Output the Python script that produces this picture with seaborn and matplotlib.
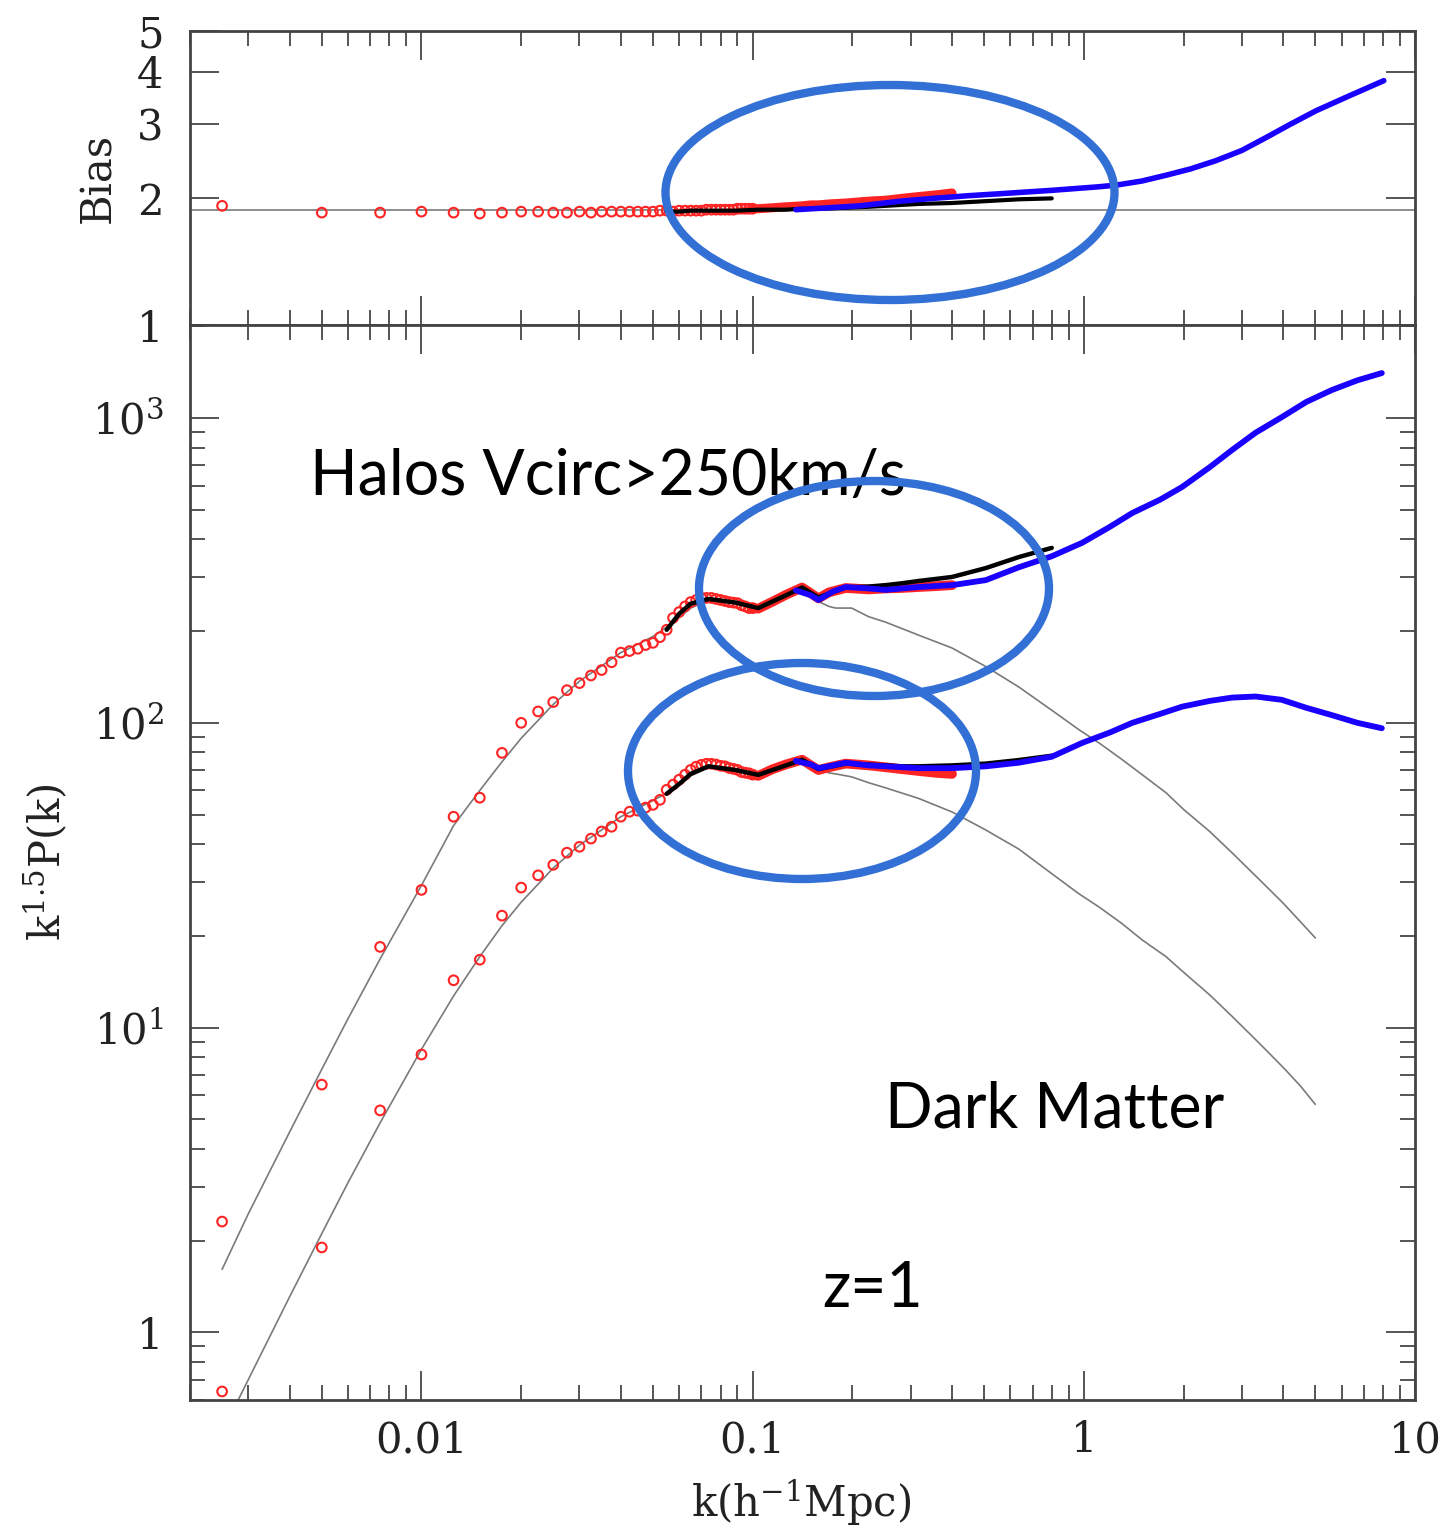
import matplotlib
matplotlib.use("Agg")
import matplotlib.pyplot as plt
import seaborn as sns
from matplotlib.patches import Ellipse
from matplotlib.ticker import FixedLocator, FixedFormatter, NullLocator, NullFormatter, LogLocator

sns.set_theme(style="ticks")
plt.rcParams['font.family'] = ['DejaVu Serif']
plt.rcParams['mathtext.fontset'] = 'dejavuserif'

# ---------------- data ----------------
# sparse red circles (large box), k = 0.0025 ... 0.1
k_red = [0.0025, 0.005, 0.0075, 0.01, 0.0125, 0.015, 0.0175, 0.02, 0.0225, 0.025,
         0.0275, 0.03, 0.0325, 0.035, 0.0375, 0.04, 0.0425, 0.045, 0.0475, 0.05,
         0.0525, 0.055, 0.0575, 0.06, 0.0625, 0.065, 0.0675, 0.07, 0.0725, 0.075,
         0.0775, 0.08, 0.0825, 0.085, 0.0875, 0.09, 0.0925, 0.095, 0.0975, 0.1]
bias_red = [1.92, 1.85, 1.85, 1.86, 1.85, 1.84, 1.85, 1.86, 1.86, 1.85,
            1.85, 1.86, 1.85, 1.86, 1.86, 1.86, 1.86, 1.86, 1.86, 1.86,
            1.87, 1.87, 1.86, 1.87, 1.87, 1.87, 1.87, 1.87, 1.88, 1.88,
            1.88, 1.88, 1.88, 1.88, 1.88, 1.89, 1.89, 1.89, 1.89, 1.89]
halo_red = [2.31, 6.5, 18.4, 28.3, 49.2, 56.8, 79.7, 100, 109, 117,
            128, 135, 143, 149, 158, 170, 172, 175, 180, 183,
            191, 202, 221, 231, 241, 249, 253, 257, 257, 257,
            255, 253, 251, 249, 248, 247, 243, 241, 238, 238]
dm_red = [0.64, 1.9, 5.35, 8.16, 14.3, 16.7, 23.3, 28.8, 31.6, 34.2,
          37.5, 39.2, 41.7, 44.0, 45.6, 49.2, 51.1, 51.5, 52.7, 53.8,
          55.9, 60.3, 62.7, 65.1, 67.6, 70.1, 71.8, 72.8, 73.4, 73.4,
          73.0, 72.3, 72.0, 71.1, 70.6, 70.1, 69.0, 68.6, 68.3, 67.6]

# dense part of the red points (merged into a band)
k_band = [0.1, 0.104, 0.115, 0.126, 0.141, 0.15, 0.158, 0.17, 0.191, 0.224, 0.252, 0.282, 0.317, 0.36, 0.4]
halo_band = [238, 237, 250, 263, 278, 266, 256, 268, 277, 274, 276, 277, 279, 281, 283]
dm_band = [67.6, 67.0, 70.5, 73.0, 75.7, 72.5, 70.0, 71.5, 73.5, 72.5, 71.5, 70.5, 69.5, 68.5, 68.0]
bias_band = [1.89, 1.89, 1.90, 1.91, 1.92, 1.93, 1.93, 1.94, 1.95, 1.97, 1.98, 2.00, 2.02, 2.04, 2.06]

# black points (medium box)
k_blk = [0.055, 0.06, 0.065, 0.0736, 0.0889, 0.104, 0.126, 0.141, 0.158, 0.191,
         0.224, 0.252, 0.282, 0.317, 0.4, 0.506, 0.637, 0.8]
halo_blk = [202, 228, 246, 255, 248, 238, 262, 278, 258, 278, 280, 283, 287, 292, 301, 322, 350, 375]
dm_blk = [58.5, 63, 68, 72, 70, 67.5, 72.5, 75.7, 70.5, 73.5, 73, 72.5, 72, 72, 72.5, 73.5, 75.5, 78]
bias_blk = [1.86, 1.86, 1.87, 1.87, 1.87, 1.88, 1.88, 1.89, 1.89, 1.90,
            1.91, 1.92, 1.93, 1.94, 1.95, 1.97, 1.99, 2.00]

# blue points (small box)
k_blue = [0.135, 0.15, 0.158, 0.175, 0.191, 0.224, 0.252, 0.317, 0.4, 0.506,
          0.637, 0.8, 0.99, 1.2, 1.4, 1.7, 1.98, 2.4, 2.8, 3.3,
          3.96, 4.7, 5.61, 6.7, 7.94]
halo_blue = [272, 262, 253, 270, 279, 276, 273, 279, 283, 294,
             324, 352, 390, 440, 488, 540, 594, 690, 785, 895,
             1007, 1130, 1236, 1330, 1405]
dm_blue = [75, 73, 71, 72.5, 74, 72.5, 72, 71, 71, 72,
           74, 77.4, 86, 93, 100, 107, 113, 118, 121, 122,
           119, 112, 106, 100, 96]
k_blue_b = [0.135, 0.17, 0.21, 0.28, 0.35, 0.45, 0.55, 0.8, 1.1, 1.25,
            1.5, 1.77, 2.1, 2.51, 3.0, 3.55, 4.2, 5.02, 6.3, 8.05]
bias_blue = [1.88, 1.90, 1.92, 1.97, 2.00, 2.03, 2.05, 2.09, 2.13, 2.15,
             2.20, 2.27, 2.35, 2.46, 2.60, 2.79, 3.00, 3.23, 3.50, 3.81]

# linear theory curves
k_lin = [0.0025, 0.003, 0.004, 0.005, 0.006, 0.0075, 0.01, 0.0125, 0.015, 0.0175,
         0.02, 0.025, 0.03, 0.04, 0.05, 0.0585, 0.065, 0.0736, 0.08, 0.0889,
         0.095, 0.104, 0.115, 0.126, 0.135, 0.141, 0.15, 0.158, 0.17, 0.178,
         0.199, 0.224, 0.252, 0.317, 0.4, 0.506, 0.637, 0.8, 0.966, 1.11,
         1.3, 1.5, 1.77, 2.0, 2.4, 2.8, 3.4, 4.0, 4.5, 5.0]
halo_lin = [1.61, 2.45, 4.55, 7.3, 10.7, 16.8, 29.3, 46, 60, 74.5,
            89, 115, 137, 170, 192, 216, 238, 253, 254, 249,
            243, 238, 250, 263, 272, 275, 263, 250, 241, 238,
            238, 223, 214, 194, 176, 153, 131, 110, 95, 86,
            76, 67.6, 59, 52, 44, 37.5, 30.5, 25.6, 22.3, 19.7]
dm_lin = [0.47, 0.70, 1.31, 2.11, 3.10, 4.87, 8.49, 12.7, 17.1, 21.6,
          25.8, 33.4, 39.7, 49.2, 55.6, 61, 67, 71.5, 72, 70.5,
          69, 67.6, 70.5, 73, 75, 75.5, 72.5, 70.5, 68.5, 68,
          66.5, 63.6, 61.2, 56.5, 51, 44.5, 38.5, 32, 27.5, 24.9,
          22.0, 19.4, 17.1, 15.2, 12.8, 10.9, 8.85, 7.4, 6.45, 5.6]
bias_lin = 1.88

RED = '#ff2424'
BLUE = '#1a00ff'
GRAY = '#7a7a7a'
RING = '#3370d6'

W, H = 1449, 1531
fig = plt.figure(figsize=(W / 100, H / 100), dpi=100)
ax_b = fig.add_axes([190 / W, 1 - 325 / H, 1225 / W, 294 / H])
ax_p = fig.add_axes([190 / W, 1 - 1400 / H, 1225 / W, 1075 / H])

for ax in (ax_b, ax_p):
    ax.set_xscale('log')
    ax.set_yscale('log')
    ax.set_xlim(0.002, 10)

# ---- bias panel ----
ax_b.axhline(bias_lin, color=GRAY, lw=1.2, zorder=1)
sns.scatterplot(x=k_red, y=bias_red, ax=ax_b, marker='o', s=48, facecolor='none',
                edgecolor=RED, linewidth=1.5, zorder=3)
sns.lineplot(x=k_band, y=bias_band, ax=ax_b, color=RED, lw=6.5, estimator=None, sort=False, zorder=3)
sns.lineplot(x=k_blk, y=bias_blk, ax=ax_b, color='black', lw=3.0, estimator=None, sort=False, zorder=4)
sns.lineplot(x=k_blue_b, y=bias_blue, ax=ax_b, color=BLUE, lw=4.0, estimator=None, sort=False, zorder=5)
ax_b.set_ylim(1, 5)

# ---- power spectrum panel ----
sns.lineplot(x=k_lin, y=halo_lin, ax=ax_p, color=GRAY, lw=1.2, estimator=None, sort=False, zorder=1)
sns.lineplot(x=k_lin, y=dm_lin, ax=ax_p, color=GRAY, lw=1.2, estimator=None, sort=False, zorder=1)
for vals, band in ((halo_red, halo_band), (dm_red, dm_band)):
    sns.scatterplot(x=k_red, y=vals, ax=ax_p, marker='o', s=48, facecolor='none',
                    edgecolor=RED, linewidth=1.5, zorder=3)
    sns.lineplot(x=k_band, y=band, ax=ax_p, color=RED, lw=7, estimator=None, sort=False, zorder=3)
for vals in (halo_blk, dm_blk):
    sns.lineplot(x=k_blk, y=vals, ax=ax_p, color='black', lw=3.2, estimator=None, sort=False, zorder=4)
for vals in (halo_blue, dm_blue):
    sns.lineplot(x=k_blue, y=vals, ax=ax_p, color=BLUE, lw=4.2, estimator=None, sort=False, zorder=5)
ax_p.set_ylim(0.6, 2020)

# ---- axes styling ----
for ax in (ax_b, ax_p):
    for sp in ax.spines.values():
        sp.set_visible(True)
        sp.set_linewidth(2.0)
        sp.set_color('#444444')
    ax.tick_params(which='both', direction='in', top=True, right=True,
                   color='#555555', width=1.4, labelsize=30, labelcolor='#222222')
    ax.tick_params(which='major', length=21)
    ax.tick_params(which='minor', length=10.5)
    ax.tick_params(axis='y', which='both', pad=19)
    ax.tick_params(axis='x', which='both', pad=14)
    ax.xaxis.set_major_locator(LogLocator(base=10, numticks=10))
    ax.xaxis.set_minor_locator(LogLocator(base=10, subs=range(2, 10), numticks=20))
    ax.grid(False)

ax_b.xaxis.set_major_formatter(NullFormatter())
ax_b.xaxis.set_minor_formatter(NullFormatter())
ax_b.yaxis.set_major_locator(FixedLocator([1, 2, 3, 4, 5]))
ax_b.yaxis.set_major_formatter(FixedFormatter(['1', '2', '3', '4', '5']))
ax_b.yaxis.set_minor_locator(NullLocator())
ax_b.set_ylabel('Bias', fontsize=30, color='#222222')
ax_b.yaxis.set_label_coords(-0.058, 0.5)

ax_p.xaxis.set_major_locator(FixedLocator([0.001, 0.01, 0.1, 1, 10]))
ax_p.xaxis.set_major_formatter(FixedFormatter(['0.001', '0.01', '0.1', '1', '10']))
ax_p.xaxis.set_minor_formatter(NullFormatter())
ax_p.yaxis.set_major_locator(FixedLocator([1, 10, 100, 1000]))
ax_p.yaxis.set_major_formatter(FixedFormatter(['1', r'$\mathregular{10^1}$', r'$\mathregular{10^2}$',
                                               r'$\mathregular{10^3}$']))
ax_p.yaxis.set_minor_locator(LogLocator(base=10, subs=range(2, 10), numticks=20))
ax_p.yaxis.set_minor_formatter(NullFormatter())
ax_p.set_ylabel(r'$\mathregular{k^{1.5}P(k)}$', fontsize=30, color='#222222')
ax_p.yaxis.set_label_coords(-0.098, 0.5)
ax_p.set_xlabel(r'$\mathregular{k(h^{-1}Mpc)}$', fontsize=30, color='#222222')
ax_p.xaxis.set_label_coords(0.499, -0.072)

# ---- annotations ----
txt = dict(fontsize=45, family=['Lato', 'DejaVu Sans'], color='black', ha='left', va='baseline', zorder=4)
fig.text(310 / W, 1 - 495 / H, 'Halos Vcirc>250km/s', **txt)
fig.text(885 / W, 1 - 1128 / H, 'Dark Matter', **txt)
fig.text(822 / W, 1 - 1307 / H, 'z=1', **txt)

for cx, cy, ew, eh in ((890, 192.5, 449, 215), (874, 588.5, 350, 215), (802, 771, 348, 216)):
    fig.add_artist(Ellipse((cx / W, 1 - cy / H), ew / W, eh / H, transform=fig.transFigure,
                           fill=False, ec=RING, lw=6, zorder=6))

fig.savefig('out.png', dpi=100)
